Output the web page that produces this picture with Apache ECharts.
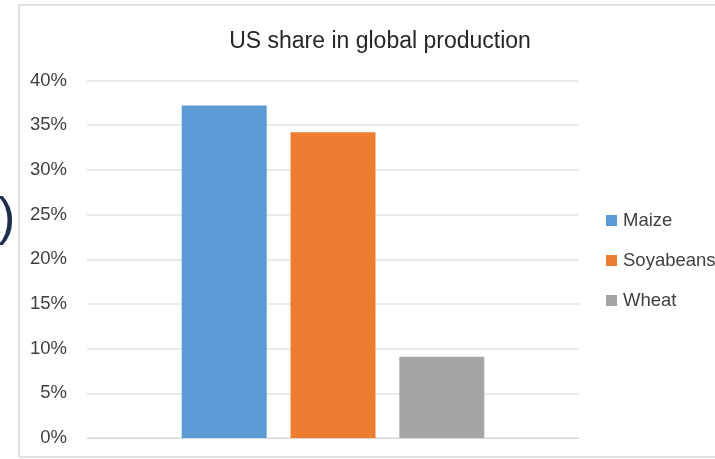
<!DOCTYPE html>
<html>
<head>
<meta charset="utf-8">
<script src="https://cdn.jsdelivr.net/npm/echarts@6/dist/echarts.min.js"></script>
<style>
  html, body { margin: 0; padding: 0; background: #ffffff; }
  #chart { width: 715px; height: 459px; }
</style>
</head>
<body>
<div id="chart"></div>
<script>
// US share in global production, by crop (percent)
const categories = ['US'];
const seriesNames = ['Maize', 'Soyabeans', 'Wheat'];
const maizeShare = [37.2];
const soyabeansShare = [34.2];
const wheatShare = [9.1];
const yTicks = [0, 5, 10, 15, 20, 25, 30, 35, 40];

const colors = ['#5b9bd5', '#ed7d31', '#a5a5a5'];
const values = [maizeShare, soyabeansShare, wheatShare];

const chart = echarts.init(document.getElementById('chart'));
const font = '"Liberation Sans", "DejaVu Sans", sans-serif';

chart.setOption({
  animation: false,
  backgroundColor: '#ffffff',
  title: {
    text: 'US share in global production',
    left: 375, top: 25,
    textAlign: 'center',
    textStyle: { fontFamily: font, fontSize: 23, fontWeight: 'normal', color: '#262626' }
  },
  legend: {
    orient: 'vertical',
    left: 601, top: 206,
    itemWidth: 11, itemHeight: 11, itemGap: 21,
    icon: 'rect',
    textStyle: { fontFamily: font, fontSize: 18.5, color: '#404040', padding: [0, 0, 0, 1] },
    data: seriesNames
  },
  grid: { left: 87, right: 136, top: 80.5, bottom: 21, containLabel: false },
  xAxis: {
    type: 'category',
    data: categories,
    axisLine: { show: true, lineStyle: { color: '#d9d9d9', width: 1 } },
    axisTick: { show: false },
    axisLabel: { show: false }
  },
  yAxis: {
    type: 'value',
    min: yTicks[0], max: yTicks[yTicks.length - 1], interval: 5,
    axisLine: { show: false },
    axisTick: { show: false },
    splitLine: { lineStyle: { color: '#e3e3e3', width: 1.5 } },
    axisLabel: {
      margin: 20,
      fontFamily: font, fontSize: 18.5, color: '#404040',
      formatter: v => v + '%'
    }
  },
  series: seriesNames.map((name, i) => ({
    name,
    type: 'bar',
    data: values[i],
    barWidth: 85,
    barGap: '28%',
    itemStyle: { color: colors[i] }
  })),
  graphic: [
    {
      type: 'rect',
      shape: { x: 19, y: 5, width: 720, height: 452 },
      style: { fill: 'none', stroke: '#d9d9d9', lineWidth: 1.5 },
      z: -1
    },
    {
      type: 'text',
      left: -2, top: 194,
      style: { text: ')', fontFamily: font, fontSize: 52, fill: '#1f2d4f' }
    }
  ]
});
</script>
</body>
</html>
